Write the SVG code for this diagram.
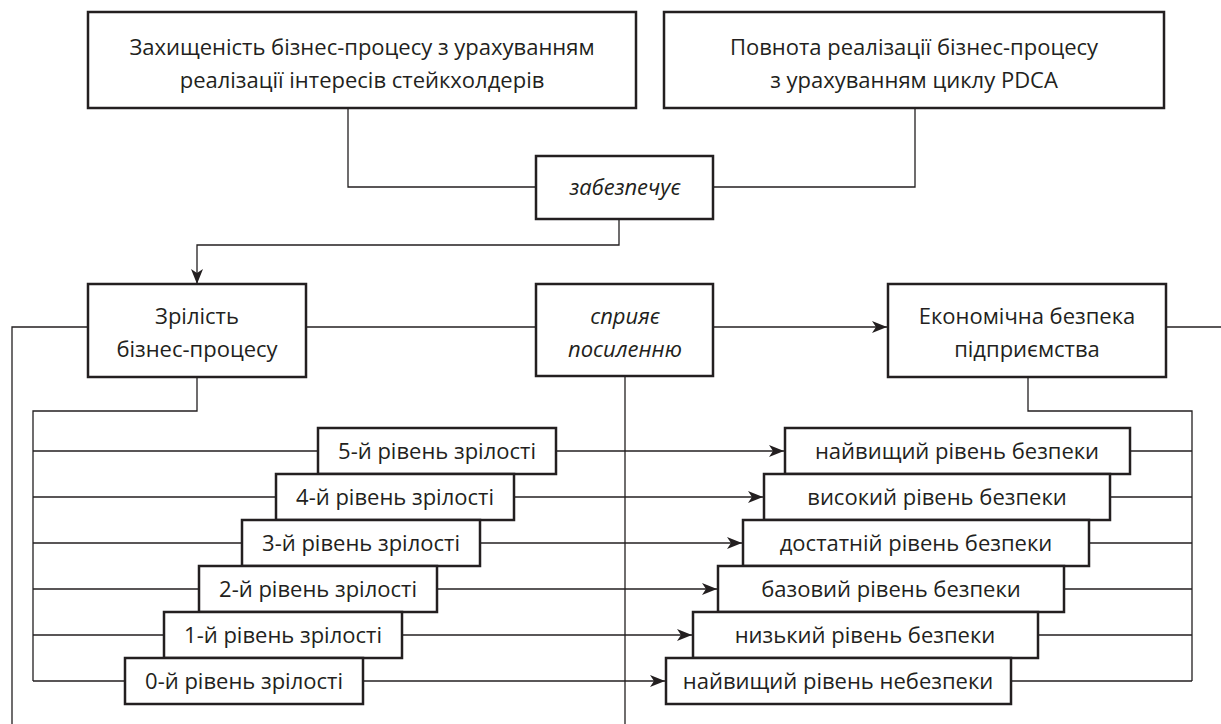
<svg xmlns="http://www.w3.org/2000/svg" width="1221" height="724" viewBox="0 0 1221 724">
<style>
.box{fill:#fff;stroke:#231f20;stroke-width:2.5}
.ln{fill:none;stroke:#231f20;stroke-width:1.3}
.t{font-family:"Open Sans","Noto Sans",sans-serif;font-size:22px;fill:#231f20;text-anchor:middle}
.i{font-style:italic}
</style>
<defs>
<marker id="ah" markerUnits="userSpaceOnUse" markerWidth="15" markerHeight="12" viewBox="0 0 15 12" refX="15" refY="6" orient="auto">
<path d="M0,0 L15,6 L0,12 L4,6 z" fill="#231f20"/>
</marker>
</defs>
<rect width="1221" height="724" fill="#fff"/>
<g id="connectors">
<path class="ln" d="M348,108 V187 H536"/>
<path class="ln" d="M915,108 V187 H713"/>
<path class="ln" d="M619,219 V245 H197 V284" marker-end="url(#ah)"/>
<path class="ln" d="M88,327 H12 V724"/>
<path class="ln" d="M306,327 H536"/>
<path class="ln" d="M713,327 H887" marker-end="url(#ah)"/>
<path class="ln" d="M1166,327 H1221"/>
<path class="ln" d="M625,376 V724"/>
<path class="ln" d="M197,377 V411 H33 V681"/>
<path class="ln" d="M1028,377 V411 H1192 V681"/>
<path class="ln" d="M33,451 H318 M33,497 H276 M33,543 H242 M33,589 H199 M33,635 H164 M33,681 H125"/>
<path class="ln" d="M1130,451 H1192 M1110,497 H1192 M1089,543 H1192 M1064,589 H1192 M1038,635 H1192 M1011,681 H1192"/>
<path class="ln" d="M556,451 H784" marker-end="url(#ah)"/>
<path class="ln" d="M514,497 H763" marker-end="url(#ah)"/>
<path class="ln" d="M480,543 H742" marker-end="url(#ah)"/>
<path class="ln" d="M437,589 H717" marker-end="url(#ah)"/>
<path class="ln" d="M402,635 H692" marker-end="url(#ah)"/>
<path class="ln" d="M363,681 H665" marker-end="url(#ah)"/>
</g>
<g id="n1"><rect class="box" x="88" y="12" width="548" height="96"/>
<text class="t" x="362" y="55">Захищеність бізнес-процесу з урахуванням</text>
<text class="t" x="362" y="88">реалізації інтересів стейкхолдерів</text></g>
<g id="n2"><rect class="box" x="664" y="12" width="500" height="96"/>
<text class="t" x="914" y="55">Повнота реалізації бізнес-процесу</text>
<text class="t" x="914" y="88">з урахуванням циклу PDCA</text></g>
<g id="n3"><rect class="box" x="536" y="156" width="177" height="63"/>
<text class="t i" x="625" y="195">забезпечує</text></g>
<g id="n4"><rect class="box" x="88" y="284" width="218" height="93"/>
<text class="t" x="197" y="324">Зрілість</text>
<text class="t" x="197" y="357">бізнес-процесу</text></g>
<g id="n5"><rect class="box" x="536" y="284" width="177" height="92"/>
<text class="t i" x="625" y="324">сприяє</text>
<text class="t i" x="625" y="357">посиленню</text></g>
<g id="n6"><rect class="box" x="888" y="284" width="278" height="93"/>
<text class="t" x="1027" y="324">Економічна безпека</text>
<text class="t" x="1027" y="357">підприємства</text></g>
<g id="l5"><rect class="box" x="318" y="428" width="238" height="46"/><text class="t" x="437" y="459">5-й рівень зрілості</text></g>
<g id="l4"><rect class="box" x="276" y="474" width="238" height="46"/><text class="t" x="395" y="505">4-й рівень зрілості</text></g>
<g id="l3"><rect class="box" x="242" y="520" width="238" height="46"/><text class="t" x="361" y="551">3-й рівень зрілості</text></g>
<g id="l2"><rect class="box" x="199" y="566" width="238" height="46"/><text class="t" x="318" y="597">2-й рівень зрілості</text></g>
<g id="l1"><rect class="box" x="164" y="612" width="238" height="46"/><text class="t" x="283" y="643">1-й рівень зрілості</text></g>
<g id="l0"><rect class="box" x="125" y="658" width="238" height="46"/><text class="t" x="244" y="689">0-й рівень зрілості</text></g>
<g id="s5"><rect class="box" x="785" y="428" width="345" height="46"/><text class="t" x="957" y="459">найвищий рівень безпеки</text></g>
<g id="s4"><rect class="box" x="764" y="474" width="346" height="46"/><text class="t" x="937" y="505">високий рівень безпеки</text></g>
<g id="s3"><rect class="box" x="743" y="520" width="346" height="46"/><text class="t" x="916" y="551">достатній рівень безпеки</text></g>
<g id="s2"><rect class="box" x="718" y="566" width="346" height="46"/><text class="t" x="891" y="597">базовий рівень безпеки</text></g>
<g id="s1"><rect class="box" x="693" y="612" width="345" height="46"/><text class="t" x="865" y="643">низький рівень безпеки</text></g>
<g id="s0"><rect class="box" x="666" y="658" width="345" height="46"/><text class="t" x="838" y="689">найвищий рівень небезпеки</text></g>
</svg>
